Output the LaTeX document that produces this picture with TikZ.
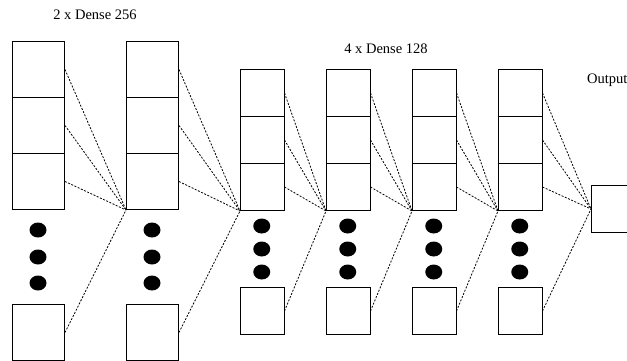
\documentclass[tikz,border=0pt]{standalone}
\usepackage{fontspec}
\setmainfont{Liberation Serif}
\usetikzlibrary{shapes.geometric}
\begin{document}
\begin{tikzpicture}[x=1pt,y=-1pt,
  bigcell/.style={draw=black,line width=1pt,rectangle,inner sep=0pt,minimum width=52pt,minimum height=56pt,anchor=north west},
  smallcell/.style={draw=black,line width=1pt,rectangle,inner sep=0pt,minimum width=43.5pt,minimum height=47pt,anchor=north west},
  dotmark/.style={ellipse,fill=black,inner sep=0pt,minimum width=17pt,minimum height=15pt},
  conn/.style={line width=0.8pt,dash pattern=on 2pt off 1.5pt},
  lbl/.style={font=\fontsize{14.5}{16}\selectfont,inner sep=0pt}]
\useasboundingbox (0,0) rectangle (627,360);
% big columns
\foreach \i/\L in {1/12,2/126}{
  \node[bigcell] (b\i a) at (\L,41) {};
  \node[bigcell] (b\i b) at (\L,97) {};
  \node[bigcell] (b\i c) at (\L,153) {};
  \node[bigcell] (b\i z) at (\L,304) {};
  \node[dotmark] (b\i d1) at (\L+26,230) {};
  \node[dotmark] (b\i d2) at (\L+26,257) {};
  \node[dotmark] (b\i d3) at (\L+26,283) {};
}
% small columns
\foreach \i/\L in {1/240,2/326,3/412,4/498}{
  \node[smallcell] (s\i a) at (\L,69) {};
  \node[smallcell] (s\i b) at (\L,116) {};
  \node[smallcell] (s\i c) at (\L,163) {};
  \node[smallcell] (s\i z) at (\L,287) {};
  \node[dotmark] (s\i d1) at (\L+21.75,226) {};
  \node[dotmark] (s\i d2) at (\L+21.75,249) {};
  \node[dotmark] (s\i d3) at (\L+21.75,272) {};
}
% output
\node[draw=black,line width=1pt,rectangle,inner sep=0pt,minimum width=35.5pt,minimum height=47pt,anchor=north west] (out) at (591,185) {};
% labels
\node[lbl] (t1) at (95,15) {2 x Dense 256};
\node[lbl] (t2) at (386,49) {4 x Dense 128};
\node[lbl,anchor=west] (t3) at (587,80) {Output};
% connectors
\foreach \s/\t in {b1/b2c.south west,b2/s1c.south west,s1/s2c.south west,s2/s3c.south west,s3/s4c.south west,s4/out.west}{
  \foreach \r in {a,b,c,z}{
    \draw[conn] (\s\r.east) -- (\t);
  }
}
\end{tikzpicture}
\end{document}
